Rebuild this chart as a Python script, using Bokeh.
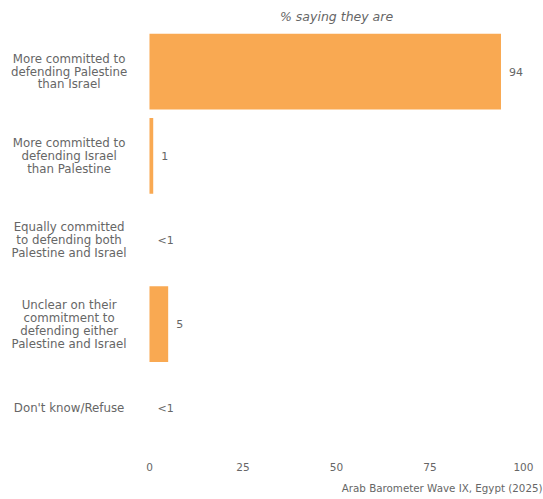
from bokeh.plotting import figure
from bokeh.models import ColumnDataSource, FactorRange, Range1d, FixedTicker, Title
from bokeh.core.properties import value
from bokeh.embed import file_html
from bokeh.resources import INLINE

categories = [
    "More committed to\ndefending Palestine\nthan Israel",
    "More committed to\ndefending Israel\nthan Palestine",
    "Equally committed\nto defending both\nPalestine and Israel",
    "Unclear on their\ncommitment to\ndefending either\nPalestine and Israel",
    "Don't know/Refuse",
]
values = [94, 1, 0, 5, 0]
value_labels = ["94", "1", "<1", "5", "<1"]
x_ticks = [0, 25, 50, 75, 100]
title_text = "% saying they are"
source_text = "Arab Barometer Wave IX, Egypt (2025)"

FONT = "DejaVu Sans"
GREY = "#666666"
BAR = "#F9A952"

src = ColumnDataSource(dict(cat=categories, val=values, lab=value_labels,
                            lx=[-21.5] * len(categories)))

p = figure(width=543, height=499, output_backend="svg", toolbar_location=None,
           y_range=FactorRange(*reversed(categories)),
           x_range=Range1d(-39.84, 105.1),
           min_border_left=0, min_border_right=1, min_border_top=29, min_border_bottom=49)

p.hbar(y="cat", right="val", left=0, height=0.9, source=src, color=BAR, line_color=None)

p.text(x="val", y="cat", text="lab", source=src, x_offset=8, text_align="left",
       text_baseline="middle", text_font=value(FONT), text_font_size="11px", text_color=GREY)

p.text(x="lx", y="cat", text="cat", source=src, text_align="center", text_baseline="middle",
       text_font=value(FONT), text_font_size="11.8px", text_color=GREY, text_line_height=0.92)

p.yaxis.visible = False
p.xgrid.visible = False
p.ygrid.visible = False
p.outline_line_color = None
p.xaxis.ticker = FixedTicker(ticks=x_ticks)
p.xaxis.axis_line_color = None
p.xaxis.major_tick_line_color = None
p.xaxis.minor_tick_line_color = None
p.xaxis.major_tick_out = 0
p.xaxis.major_tick_in = 0
p.xaxis.major_label_standoff = 12
p.xaxis.major_label_text_font = FONT
p.xaxis.major_label_text_font_size = "10.5px"
p.xaxis.major_label_text_color = GREY

p.add_layout(Title(text=title_text, align="left", offset=279.5, standoff=11,
                   text_font=FONT, text_font_style="italic", text_font_size="12.5px",
                   text_color=GREY), "above")
p.add_layout(Title(text=source_text, align="right", standoff=12,
                   text_font=FONT, text_font_style="normal", text_font_size="10.3px",
                   text_color=GREY), "below")

open("out.html", "w").write(file_html(p, INLINE))
